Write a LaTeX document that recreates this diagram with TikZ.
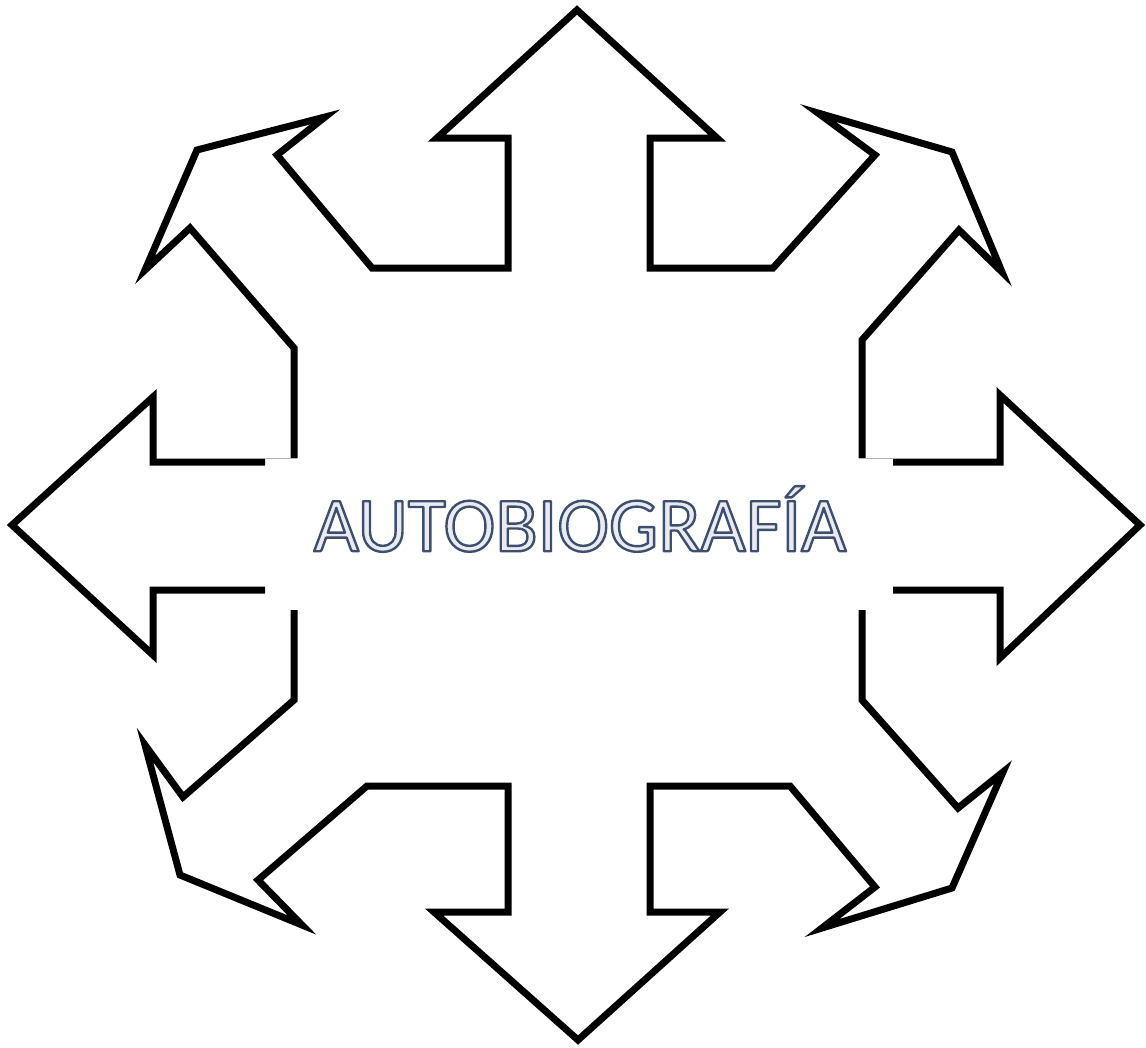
\documentclass[tikz,border=0pt]{standalone}
\usepackage{fontspec}
\newfontfamily\titlefont{Carlito}
\newcommand{\strokedtext}[3]{\special{pdf:literal q 2 Tr #1 w 1 j #2 RG}#3\special{pdf:literal Q}}
\begin{document}
\begin{tikzpicture}[x=1pt,y=-1pt,
  outline/.style={line width=7pt,line join=miter,miter limit=20,black},
  hair/.style={line width=1pt,gray!60},
  ttl/.style={font=\titlefont\fontsize{78}{78}\selectfont,inner sep=0pt}]
\useasboundingbox (0,0) rectangle (1146,1047);
\definecolor{ttlfill}{RGB}{234,235,240}
\draw[outline] (294,458) -- (294,348) -- (190,228) -- (145,270) -- (197,150) -- (325,117) -- (277,155) -- (372,268) -- (508,268) -- (508,138) -- (437,138) -- (577,10) -- (717,138) -- (650,138) -- (650,268) -- (773,268) -- (875,155) -- (818,113) -- (952,152) -- (1002,272) -- (959,230) -- (862,340) -- (862,458);
\draw[outline] (265,462) -- (153,462) -- (153,397) -- (12,525) -- (153,655) -- (153,590) -- (265,590);
\draw[outline] (893,462) -- (1000,462) -- (1000,395) -- (1140,525) -- (1000,658) -- (1000,590) -- (893,590);
\draw[outline] (294,610) -- (294,700) -- (183,797) -- (145,745) -- (180,875) -- (302,925) -- (258,880) -- (367,786) -- (508,786) -- (508,912) -- (434,912) -- (578,1040) -- (720,912) -- (650,912) -- (650,786) -- (790,786) -- (875,887) -- (822,928) -- (952,888) -- (1003,772) -- (958,808) -- (862,700) -- (862,610);
\draw[hair] (297,458) -- (265,458);
\draw[hair] (859,458) -- (893,458);
\node[ttl,text=ttlfill] (title) at (580,519) {\strokedtext{2.4}{0.24 0.31 0.43}{AUTOBIOGRAFÍA}};
\end{tikzpicture}
\end{document}
